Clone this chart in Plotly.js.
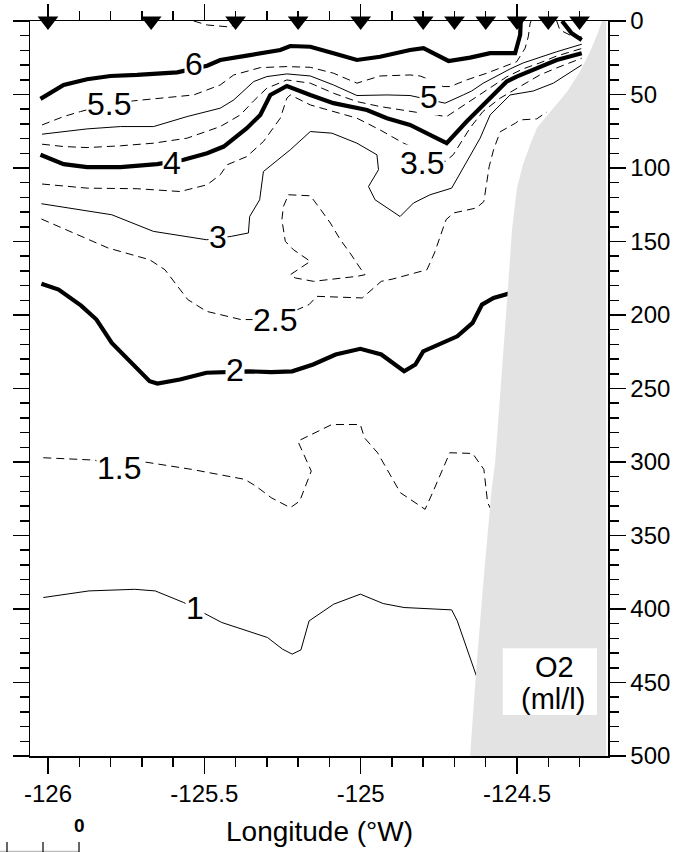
<!DOCTYPE html>
<html>
<head>
<meta charset="utf-8">
<script src="https://cdn.plot.ly/plotly-3.0.1.min.js"></script>
<style>
html,body{margin:0;padding:0;background:#fff;}
#chart{width:684px;height:852px;}
</style>
</head>
<body>
<div id="chart"></div>
<script>
// ---- Stations (longitude, °W) ----
const stationLon = [-126.0, -125.67, -125.40, -125.20, -125.0, -124.80, -124.70, -124.60, -124.50, -124.40, -124.30];
const stationDep = [0, 0, 0, 0, 0, 0, 0, 0, 0, 0, 0];

// ---- Axis ticks ----
const xTickVals = [-126, -125.5, -125, -124.5];
const xTickText = ['-126', '-125.5', '-125', '-124.5'];

// ---- O2 contour lines (ml/l): longitude and depth (m) ----
const o2_6_lon = [-126.024, -125.950, -125.875, -125.800, -125.715, -125.587, -125.491, -125.449, -125.364, -125.257, -125.225, -125.161, -125.087, -125.012, -124.938, -124.842, -124.799, -124.719, -124.650, -124.586, -124.506, -124.490, -124.488];
const o2_6_dep = [53.0, 43.5, 39.6, 37.4, 36.7, 34.9, 30.4, 26.5, 23.6, 19.7, 17.0, 17.5, 21.9, 26.5, 24.3, 19.7, 18.5, 27.2, 24.9, 21.9, 21.9, 9.5, 0];

const o2_6b_lon = [-124.356, -124.341, -124.325, -124.293];
const o2_6b_dep = [0, 3.9, 8.4, 12.9];

const o2_65_lon = [-125.534, -125.491, -125.417, -125.385];
const o2_65_dep = [0, 2.7, 4.1, 0];

const o2_55_lon = [-126.019, -125.950, -125.896, -125.806, -125.726, -125.630, -125.534, -125.449, -125.406, -125.321, -125.236, -125.161, -125.087, -125.012, -124.938, -124.842, -124.810, -124.778, -124.736, -124.714, -124.661, -124.597, -124.554, -124.501, -124.474, -124.464, -124.458, -124.455];
const o2_55_dep = [70.7, 65.0, 61.6, 56.6, 54.3, 52.1, 50.3, 43.5, 36.7, 31.7, 31.0, 31.5, 35.5, 42.3, 37.4, 36.7, 37.4, 40.1, 44.6, 44.6, 40.1, 35.5, 32.1, 27.7, 18.5, 10.7, 1.6, 0];

const o2_55b_lon = [-124.373, -124.363, -124.331, -124.293];
const o2_55b_dep = [0, 6.1, 9.5, 10.9];

const o2_5_lon = [-126.019, -125.950, -125.875, -125.768, -125.662, -125.555, -125.449, -125.406, -125.342, -125.300, -125.236, -125.161, -125.087, -125.012, -124.916, -124.842, -124.746, -124.730, -124.672, -124.645, -124.608, -124.554, -124.522, -124.480, -124.427, -124.373, -124.293];
const o2_5_dep = [77.0, 75.2, 73.4, 71.8, 71.8, 65.0, 59.3, 53.7, 41.2, 37.8, 36.0, 37.4, 43.5, 50.7, 50.3, 50.7, 54.8, 55.9, 50.3, 47.6, 42.3, 36.0, 32.6, 28.5, 24.5, 20.9, 15.8];

const o2_45_lon = [-126.019, -125.950, -125.875, -125.768, -125.662, -125.555, -125.449, -125.385, -125.342, -125.300, -125.236, -125.161, -125.087, -125.012, -124.938, -124.842, -124.810, -124.725, -124.661, -124.597, -124.533, -124.481, -124.427, -124.373, -124.293];
const o2_45_dep = [83.8, 85.4, 86.1, 84.9, 83.1, 79.7, 71.8, 63.9, 54.3, 45.7, 40.1, 42.3, 49.1, 54.8, 58.2, 61.6, 62.5, 65.0, 55.9, 46.9, 38.0, 32.6, 28.5, 23.8, 18.7];

const o2_4_lon = [-126.024, -125.950, -125.875, -125.768, -125.651, -125.566, -125.491, -125.438, -125.364, -125.321, -125.289, -125.236, -125.161, -125.087, -124.980, -124.916, -124.842, -124.810, -124.725, -124.661, -124.597, -124.533, -124.501, -124.416, -124.373, -124.293];
const o2_4_dep = [91.0, 97.4, 99.4, 99.4, 97.4, 94.4, 89.9, 85.4, 72.9, 63.9, 50.3, 44.2, 50.3, 55.9, 60.5, 66.1, 70.7, 74.1, 83.1, 68.4, 54.8, 41.2, 37.8, 29.9, 26.5, 21.9];

const o2_35_lon = [-126.019, -125.875, -125.715, -125.577, -125.491, -125.449, -125.427, -125.364, -125.311, -125.257, -125.236, -125.225, -125.161, -125.087, -125.012, -124.938, -124.863, -124.730, -124.704, -124.650, -124.609, -124.554, -124.501, -124.427, -124.373, -124.293];
const o2_35_dep = [110.9, 113.7, 114.1, 116.0, 111.4, 104.6, 97.8, 92.2, 82.0, 66.1, 52.5, 50.3, 57.1, 61.6, 66.1, 74.1, 83.1, 95.6, 91.0, 72.7, 61.6, 52.5, 45.7, 36.7, 31.9, 25.3];

const o2_3_lon = [-126.021, -125.906, -125.796, -125.663, -125.493, -125.414, -125.359, -125.355, -125.323, -125.311, -125.225, -125.161, -125.092, -125.012, -124.948, -124.943, -124.975, -124.954, -124.874, -124.831, -124.778, -124.709, -124.672, -124.618, -124.586, -124.522, -124.448, -124.384, -124.293];
const o2_3_dep = [124.3, 127.9, 131.8, 143.1, 148.8, 146.5, 144.2, 133.0, 121.6, 102.4, 87.6, 75.2, 76.3, 83.1, 91.0, 101.2, 112.6, 121.6, 133.0, 123.8, 118.2, 113.7, 100.1, 79.7, 63.9, 50.3, 47.6, 42.3, 29.9];

const o2_25_lon = [-126.021, -125.906, -125.808, -125.675, -125.626, -125.553, -125.493, -125.383, -125.274, -125.165, -125.140, -124.995, -124.934, -124.897, -124.788, -124.764, -124.727, -124.703, -124.630, -124.606, -124.594, -124.589, -124.575, -124.554, -124.505, -124.491, -124.437, -124.405];
const o2_25_dep = [134.7, 145.4, 154.4, 162.4, 169.2, 189.5, 197.5, 203.1, 203.1, 192.9, 187.3, 188.4, 177.1, 175.5, 169.2, 157.8, 135.2, 130.6, 127.2, 122.8, 108.0, 99.0, 87.6, 75.4, 69.5, 67.3, 66.6, 62.0];

const o2_25loop_lon = [-125.231, -125.161, -125.135, -125.097, -125.065, -125.034, -125.002, -124.986, -125.012, -125.065, -125.151, -125.209, -125.225, -125.161, -125.215, -125.241, -125.252, -125.247, -125.231];
const o2_25loop_dep = [118.2, 118.9, 126.2, 137.4, 148.8, 157.8, 168.0, 172.6, 173.7, 174.8, 177.1, 174.8, 172.6, 163.5, 155.6, 149.9, 135.2, 126.2, 118.2];

const o2_2_lon = [-126.021, -125.966, -125.894, -125.845, -125.796, -125.735, -125.675, -125.650, -125.578, -125.493, -125.402, -125.359, -125.286, -125.219, -125.152, -125.080, -125.001, -124.934, -124.861, -124.825, -124.800, -124.691, -124.642, -124.612, -124.575, -124.533, -124.516];
const o2_2_dep = [178.7, 182.7, 193.6, 203.1, 219.0, 232.5, 245.0, 246.6, 243.9, 239.3, 238.3, 238.3, 238.9, 238.3, 233.7, 226.9, 223.0, 226.9, 238.3, 233.7, 224.7, 214.5, 205.4, 192.9, 188.4, 186.1, 184.8];

const o2_15_lon = [-126.015, -125.851, -125.772, -125.687, -125.541, -125.371, -125.335, -125.286, -125.225, -125.195, -125.158, -125.183, -125.201, -125.092, -125.001, -124.988, -124.946, -124.873, -124.794, -124.770, -124.715, -124.642, -124.606, -124.594, -124.580];
const o2_15_dep = [297.1, 298.7, 303.9, 300.1, 305.0, 311.8, 316.4, 324.3, 331.1, 326.6, 306.2, 293.7, 285.8, 274.5, 274.5, 283.5, 293.7, 320.9, 332.2, 320.9, 293.7, 294.2, 305.0, 327.7, 333.6];

const o2_1_lon = [-126.015, -125.869, -125.723, -125.657, -125.566, -125.493, -125.444, -125.298, -125.250, -125.219, -125.191, -125.165, -125.086, -125.001, -124.928, -124.861, -124.709, -124.691, -124.630, -124.621];
const o2_1_dep = [392.2, 387.7, 386.6, 387.7, 395.6, 403.5, 409.2, 419.4, 427.3, 430.7, 427.8, 408.1, 396.7, 389.9, 396.3, 399.0, 400.6, 408.1, 444.3, 451.0];

// ---- Contour labels ----
const labelText = ['6', '5.5', '5', '4', '3.5', '3', '2.5', '2', '1.5', '1'];
const labelLon  = [-125.532, -125.806, -124.783, -125.603, -124.805, -125.456, -125.274, -125.402, -125.772, -125.529];
const labelDep  = [29.4, 56.6, 51.4, 96.7, 96.5, 147.0, 203.6, 237.6, 303.9, 399.0];

// ---- Sea floor (shelf / slope) ----
const bottomLon = [-124.228, -124.244, -124.267, -124.299, -124.340, -124.395, -124.436, -124.458, -124.481, -124.500, -124.516, -124.527, -124.545, -124.558, -124.570, -124.581, -124.605, -124.631, -124.650, -124.215, -124.215];
const bottomDep = [0, 9.5, 21.1, 34.6, 48.2, 61.8, 72.7, 84.2, 97.8, 113.5, 142.0, 176.0, 232.3, 266.3, 300.3, 318.6, 375.0, 442.9, 500, 500, 0];

// ---- build ----
const segments = [
  [6, o2_6_lon, o2_6_dep], [6, o2_6b_lon, o2_6b_dep], [6.5, o2_65_lon, o2_65_dep],
  [5.5, o2_55_lon, o2_55_dep], [5.5, o2_55b_lon, o2_55b_dep],
  [5, o2_5_lon, o2_5_dep], [4.5, o2_45_lon, o2_45_dep], [4, o2_4_lon, o2_4_dep],
  [3.5, o2_35_lon, o2_35_dep], [3, o2_3_lon, o2_3_dep],
  [2.5, o2_25_lon, o2_25_dep], [2.5, o2_25loop_lon, o2_25loop_dep],
  [2, o2_2_lon, o2_2_dep], [1.5, o2_15_lon, o2_15_dep], [1, o2_1_lon, o2_1_dep]
];

const FONT = 'Liberation Sans, Arial, Helvetica, sans-serif';
const traces = segments.map(function (s) {
  const lvl = s[0];
  const half = Math.abs(lvl % 1) > 0.01;
  const thick = !half && (lvl % 2 === 0);
  return {
    type: 'scatter', mode: 'lines', x: s[1], y: s[2],
    line: {color: '#000', width: thick ? 4.2 : 1, dash: half ? '8px,5px' : 'solid'},
    hoverinfo: 'skip', showlegend: false
  };
});

traces.push({
  type: 'scatter', mode: 'lines', x: bottomLon, y: bottomDep,
  fill: 'toself', fillcolor: '#e3e3e3', line: {color: '#e3e3e3', width: 0},
  hoverinfo: 'skip', showlegend: false
});

traces.push({
  type: 'scatter', mode: 'markers', x: stationLon, y: stationDep,
  marker: {symbol: 'triangle-down', size: 18, color: '#000', line: {width: 0}},
  cliponaxis: false, hoverinfo: 'skip', showlegend: false
});

const annotations = labelText.map(function (t, i) {
  return {
    x: labelLon[i], y: labelDep[i], xref: 'x', yref: 'y', text: t, showarrow: false,
    font: {family: FONT, size: 32, color: '#000'}, bgcolor: '#fff', borderpad: 0,
    xanchor: 'center', yanchor: 'middle'
  };
});

annotations.push({xref: 'paper', yref: 'paper', x: 0.9066, y: 0.121, text: 'O2', showarrow: false,
  font: {family: FONT, size: 29, color: '#000'}, xanchor: 'center', yanchor: 'middle'});
annotations.push({xref: 'paper', yref: 'paper', x: 0.905, y: 0.0776, text: '(ml/l)', showarrow: false,
  font: {family: FONT, size: 29, color: '#000'}, xanchor: 'center', yanchor: 'middle'});
annotations.push({xref: 'paper', yref: 'paper', x: 0.5, y: -0.1034, text: 'Longitude (°W)', showarrow: false,
  font: {family: FONT, size: 28, color: '#000'}, xanchor: 'center', yanchor: 'middle'});
annotations.push({xref: 'paper', yref: 'paper', x: 0.0848, y: -0.0939, text: '<b>0</b>', showarrow: false,
  font: {family: FONT, size: 19, color: '#000'}, xanchor: 'center', yanchor: 'middle'});

const shapes = [
  {type: 'rect', xref: 'paper', yref: 'paper', x0: 0.818, x1: 0.981, y0: 0.0558, y1: 0.1465,
   fillcolor: '#fff', line: {width: 0}, layer: 'above'},
  {type: 'line', xref: 'paper', yref: 'paper', x0: -0.06, x1: 0.0848, y0: -0.1299, y1: -0.1299,
   line: {color: '#bbbbbb', width: 1.5}},
  {type: 'line', xref: 'paper', yref: 'paper', x0: -0.0398, x1: -0.0398, y0: -0.117, y1: -0.1306, line: {color: '#000', width: 1.2}},
  {type: 'line', xref: 'paper', yref: 'paper', x0: 0.0225, x1: 0.0225, y0: -0.117, y1: -0.1306, line: {color: '#000', width: 1.2}},
  {type: 'line', xref: 'paper', yref: 'paper', x0: 0.0848, x1: 0.0848, y0: -0.117, y1: -0.1306, line: {color: '#000', width: 1.2}}
];

const axisCommon = {
  ticks: 'outside', ticklen: 16, tickwidth: 1.5, tickcolor: '#000',
  showline: true, linecolor: '#000', linewidth: 1.5, mirror: 'ticks',
  showgrid: false, zeroline: false,
  tickfont: {family: FONT, size: 24, color: '#000'}
};

const layout = {
  width: 684, height: 852,
  margin: {l: 30, r: 76, t: 21, b: 96},
  paper_bgcolor: '#fff', plot_bgcolor: '#fff',
  showlegend: false,
  font: {family: FONT, color: '#000'},
  xaxis: Object.assign({}, axisCommon, {
    range: [-126.0575, -124.209], tickmode: 'array', tickvals: xTickVals, ticktext: xTickText,
    minor: {dtick: 0.1, tick0: -126, ticks: 'outside', ticklen: 9, tickwidth: 1.5, tickcolor: '#000', showgrid: false}
  }),
  yaxis: Object.assign({}, axisCommon, {
    range: [500, 0], side: 'right', tickmode: 'linear', tick0: 0, dtick: 50,
    minor: {dtick: 10, tick0: 0, ticks: 'outside', ticklen: 9, tickwidth: 1.5, tickcolor: '#000', showgrid: false}
  }),
  annotations: annotations,
  shapes: shapes
};

Plotly.newPlot('chart', traces, layout, {staticPlot: true, displayModeBar: false});
</script>
</body>
</html>
